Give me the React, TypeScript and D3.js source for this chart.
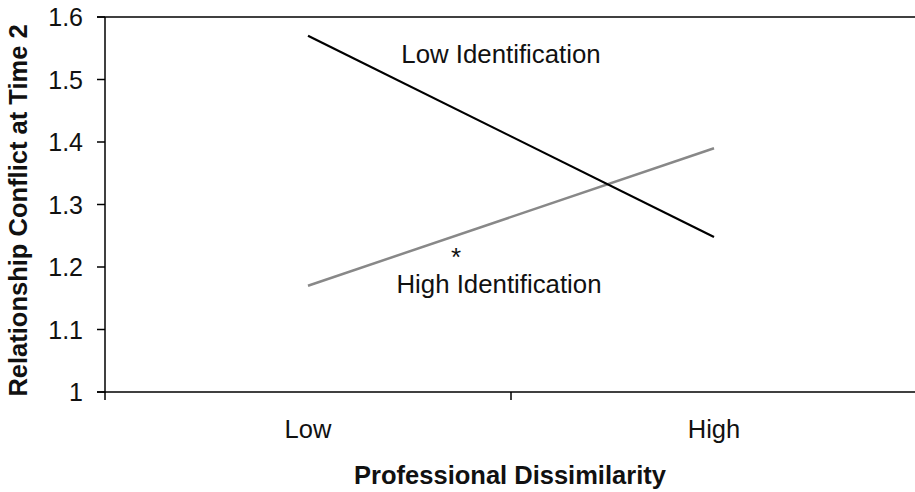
import React from 'react';
import * as d3 from 'd3';

// dissimilarity levels on the x axis
const levels = ['Low', 'High'];
// relationship conflict at time 2, one value per level
const lowIdentification = [1.57, 1.248];
const highIdentification = [1.17, 1.39];
const yTicks = [1, 1.1, 1.2, 1.3, 1.4, 1.5, 1.6];

const W = 915;
const H = 492;
const font = '"Liberation Sans", Arial, sans-serif';

export default function App() {
  const left = 105;
  const right = 917;
  const top = 17;
  const bottom = 392;

  const x = d3.scaleBand<string>().domain(levels).range([left, right]);
  const y = d3.scaleLinear().domain([1, 1.6]).range([bottom, top]);
  const cx = (d: string) => (x(d) ?? 0) + x.bandwidth() / 2;

  const line = d3
    .line<number>()
    .x((_, i) => cx(levels[i]))
    .y((d) => y(d));

  // band edges for the x ticks
  const xTicks = levels.map((d) => x(d) ?? 0);

  return (
    <svg
      width={W}
      height={H}
      style={{ position: 'absolute', left: 0, top: 0, background: '#fff' }}
      fontFamily={font}
    >
      {/* top frame line */}
      <line x1={left - 8} x2={W} y1={top} y2={top} stroke="#000" strokeWidth={1.5} />
      {/* y axis */}
      <line x1={left} x2={left} y1={top} y2={bottom + 1} stroke="#000" strokeWidth={1.5} />
      {yTicks.map((t) => (
        <g key={t}>
          <line x1={left - 8} x2={left} y1={y(t)} y2={y(t)} stroke="#000" strokeWidth={1.5} />
          <text
            x={83}
            y={y(t)}
            dy="0.36em"
            textAnchor="end"
            fontSize={25}
            fill="#111"
          >
            {d3.format('~g')(t)}
          </text>
        </g>
      ))}
      {/* x axis */}
      <line x1={left - 8} x2={W} y1={bottom} y2={bottom} stroke="#000" strokeWidth={1.5} />
      {xTicks.map((t, i) => (
        <line key={i} x1={t} x2={t} y1={bottom} y2={bottom + 8} stroke="#000" strokeWidth={1.5} />
      ))}
      {levels.map((d) => (
        <text key={d} x={cx(d)} y={438} textAnchor="middle" fontSize={25.5} fill="#111">
          {d}
        </text>
      ))}

      {/* series */}
      <path d={line(highIdentification) ?? ''} fill="none" stroke="#888" strokeWidth={2.5} />
      <path d={line(lowIdentification) ?? ''} fill="none" stroke="#000" strokeWidth={2.2} />

      <text x={501} y={63} textAnchor="middle" fontSize={25.8} fill="#111">
        Low Identification
      </text>
      <text x={499} y={293} textAnchor="middle" fontSize={25.8} fill="#111">
        High Identification
      </text>
      <text x={456} y={266} textAnchor="middle" fontSize={26} fill="#111">
        *
      </text>

      {/* axis titles */}
      <text x={510} y={484} textAnchor="middle" fontSize={25.5} fontWeight="bold" fill="#111">
        Professional Dissimilarity
      </text>
      <text
        transform={`translate(27,${(top + bottom) / 2 + 6}) rotate(-90)`}
        textAnchor="middle"
        fontSize={25.5}
        fontWeight="bold"
        fill="#111"
      >
        Relationship Conflict at Time 2
      </text>
    </svg>
  );
}
